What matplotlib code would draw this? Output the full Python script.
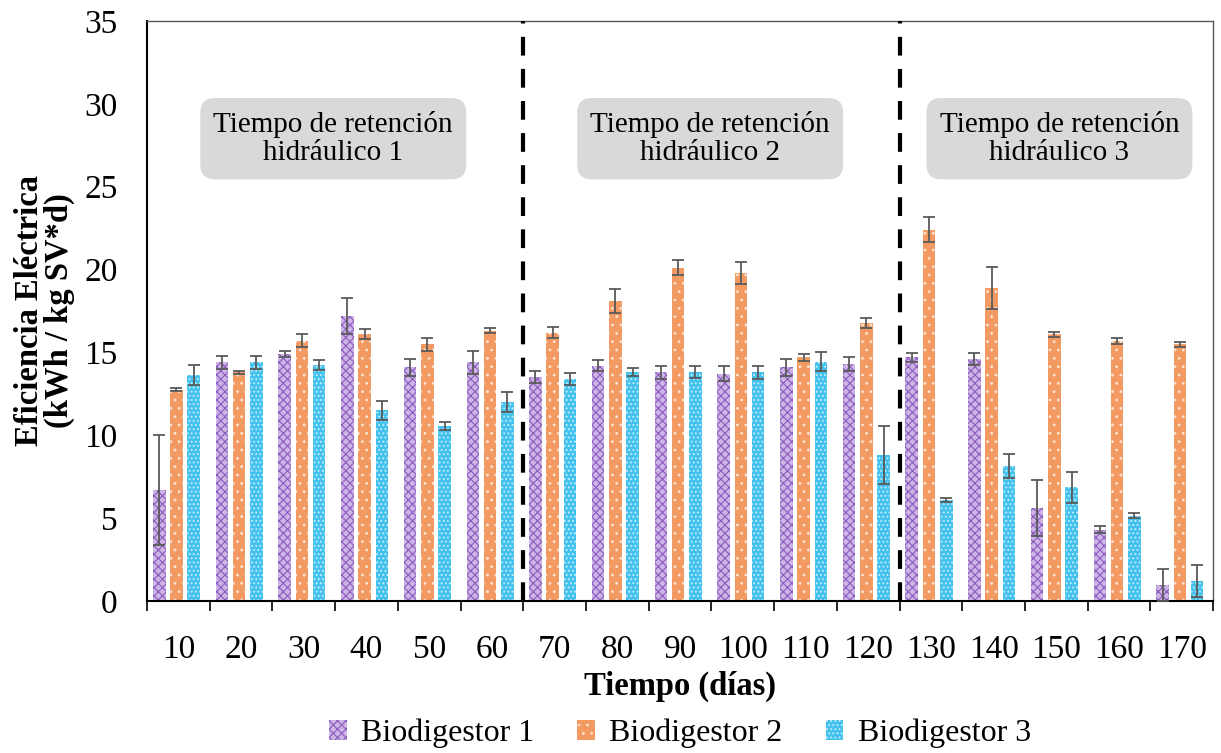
import numpy as np
import matplotlib
matplotlib.use('Agg')
import matplotlib.pyplot as plt

plt.rcParams['font.family'] = ['Liberation Serif', 'DejaVu Serif']
plt.rcParams['hatch.linewidth'] = 0.8

dias = ['10', '20', '30', '40', '50', '60', '70', '80', '90', '100', '110', '120',
        '130', '140', '150', '160', '170']

b1 = [6.7, 14.4, 14.9, 17.2, 14.1, 14.4, 13.5, 14.2, 13.8, 13.7, 14.1, 14.3,
      14.7, 14.6, 5.6, 4.3, 0.95]
b1_err = [3.3, 0.4, 0.2, 1.1, 0.5, 0.7, 0.35, 0.35, 0.4, 0.45, 0.5, 0.4,
          0.25, 0.35, 1.7, 0.2, 0.95]
b2 = [12.75, 13.8, 15.7, 16.1, 15.5, 16.3, 16.2, 18.1, 20.1, 19.8, 14.7, 16.8,
      22.4, 18.9, 16.1, 15.7, 15.5]
b2_err = [0.1, 0.1, 0.4, 0.3, 0.4, 0.15, 0.33, 0.7, 0.45, 0.65, 0.2, 0.3,
          0.75, 1.25, 0.15, 0.2, 0.15]
b3 = [13.65, 14.4, 14.25, 11.5, 10.55, 12.0, 13.4, 13.8, 13.8, 13.8, 14.45, 8.8,
      6.1, 8.15, 6.85, 5.15, 1.2]
b3_err = [0.6, 0.4, 0.3, 0.55, 0.25, 0.6, 0.35, 0.25, 0.35, 0.4, 0.6, 1.75,
          0.1, 0.7, 0.95, 0.15, 0.95]

etiquetas = ['Biodigestor 1', 'Biodigestor 2', 'Biodigestor 3']
cajas = ['Tiempo de retención\nhidráulico 1', 'Tiempo de retención\nhidráulico 2',
         'Tiempo de retención\nhidráulico 3']

fig = plt.figure(figsize=(12.21, 7.53), dpi=100)
ax = fig.add_axes([0.1204, 0.2019, 0.8731, 0.7702])

x = np.arange(len(dias))
w = 0.2
d = 0.275
sh = -0.03

estilos = [
    dict(color='#cdb4e6', edgecolor='#8a5abd', hatch='xxxx'),
    dict(color='#f39a62', edgecolor='#fde3d2', hatch='..'),
    dict(color='#44c2ee', edgecolor='#c9effc', hatch='....'),
]
series = [(b1, b1_err), (b2, b2_err), (b3, b3_err)]
handles = []
for k, (vals, errs) in enumerate(series):
    st = estilos[k]
    h = ax.bar(x + sh + (k - 1) * d, vals, w, color=st['color'], edgecolor=st['edgecolor'],
               hatch=st['hatch'], linewidth=0, label=etiquetas[k], zorder=2)
    ax.errorbar(x + sh + (k - 1) * d, vals, yerr=errs, fmt='none', ecolor='#5a5a5a',
                elinewidth=1.3, capsize=4, capthick=1.3, zorder=3)
    handles.append(h)

for xv in [5.5, 11.5]:
    ax.axvline(xv, color='black', lw=3, linestyle=(0, (4.5, 3.2)), zorder=4)

centros = [2.47, 8.48, 14.05]
for cx, txt in zip(centros, cajas):
    ax.text(cx, 27.9, txt, ha='center', va='center', fontsize=21, linespacing=1.1,
            bbox=dict(boxstyle='round,pad=0.45,rounding_size=0.5', fc='#d9d9d9', ec='none'))

ax.set_xlim(-0.5, len(dias) - 0.5)
ax.set_ylim(0, 35)
ax.set_yticks(np.arange(0, 36, 5))
ax.tick_params(axis='y', length=0, labelsize=24, pad=21)

ax.set_xticks(np.arange(-0.5, len(dias), 1))
ax.set_xticklabels([])
ax.set_xticks(x, minor=True)
ax.set_xticklabels(dias, minor=True)
ax.tick_params(axis='x', which='major', direction='out', length=7, width=1.2)
ax.tick_params(axis='x', which='minor', length=0, labelsize=24, pad=24)

for s in ['left', 'bottom']:
    ax.spines[s].set_linewidth(1.5)
    ax.spines[s].set_color('black')
for s in ['top', 'right']:
    ax.spines[s].set_linewidth(1)
    ax.spines[s].set_color('#595959')

ax.set_xlabel('Tiempo (días)', fontsize=23.5, fontweight='bold', labelpad=4)
ax.set_ylabel('Eficiencia Eléctrica\n(kWh / kg SV*d)', fontsize=23.5, fontweight='bold',
              labelpad=7, linespacing=0.95)

fig.legend(handles=handles, labels=etiquetas, loc='lower center', ncol=3, frameon=False,
           fontsize=23, bbox_to_anchor=(0.557, -0.032), handlelength=0.55, handleheight=0.55,
           handletextpad=0.45, columnspacing=1.35)

fig.savefig('out.png', dpi=100)
